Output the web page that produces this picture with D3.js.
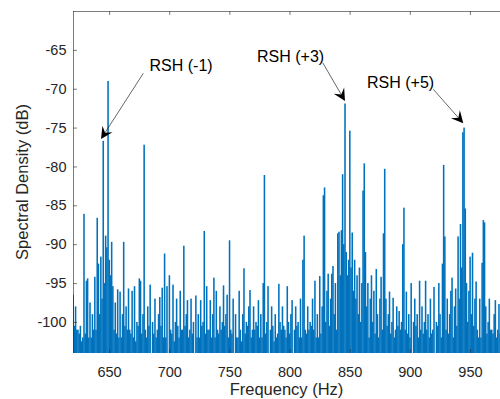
<!DOCTYPE html>
<html>
<head>
<meta charset="utf-8">
<script src="https://cdn.jsdelivr.net/npm/d3@7"></script>
<style>
  html, body { margin: 0; padding: 0; background: #fff; }
  svg { display: block; font-family: "Liberation Sans", Arial, Helvetica, sans-serif; }
</style>
</head>
<body>
<div id="chart"></div>
<script>
// spectrum, one sample per Hz starting at 620 Hz (values in dB)
const freqStart = 620;
const freqStep = 1;
const spectrum = [
  -96.5, -100.5, -98, -101, -101, -101.5, -100.5, -102.5, -102, -86.1,  // 620
  -101.5, -94.7, -94.4, -102, -97.5, -102, -99, -101, -94.2, -101,      // 630
  -86.6, -92.5, -99, -91.6, -97, -76.7, -95, -88.9, -90.4, -69,         // 640
  -92, -94, -89.7, -95.4, -101, -97.5, -101.5, -95.8, -102, -96.1,      // 650
  -102, -99, -89.7, -100.5, -98, -101, -95.7, -101, -101.5, -96,        // 660
  -102, -95.4, -102.5, -100, -100.5, -94.4, -94.7, -101.5, -99, -77.2,  // 670
  -101, -102, -98, -100.5, -95.2, -104.5, -100, -101.5, -97, -102,      // 680
  -101, -99, -96.8, -100.5, -95.6, -102, -91.2, -102, -95.4, -104.5,    // 690
  -94, -101, -101.5, -95.2, -102.5, -100, -97, -100.5, -102, -96,       // 700
  -101, -101, -90.2, -100.5, -99, -97.2, -102, -101, -97, -101.5,       // 710
  -100, -104.5, -96.6, -102, -99, -102, -97.2, -100.5, -100, -88.3,     // 720
  -101.5, -95.4, -101, -101, -97.2, -102, -99, -94.3, -102, -96,        // 730
  -101, -101.5, -98, -101, -100, -95.3, -100.5, -99, -96.5, -102,       // 740
  -89.5, -101, -101.5, -97, -104.5, -99, -102, -102, -96, -101,         // 750
  -102.5, -99, -93.1, -101.5, -100, -100.5, -98, -95.9, -102, -101,     // 760
  -98, -101, -100, -100.5, -97.2, -102, -99, -102, -95, -81.1,          // 770
  -101.5, -100, -95.4, -104.5, -101, -98, -100.5, -102.5, -99, -102,    // 780
  -101.5, -95.1, -100, -101, -98, -100.5, -101, -102, -95.4, -100,      // 790
  -101.5, -99, -97.2, -104.5, -101, -98, -100.5, -100, -102, -97,       // 800
  -102, -92, -88.9, -101, -101.5, -98, -101, -100, -100.5, -97,         // 810
  -101, -94.7, -102, -99, -102, -94.1, -101.5, -98, -83.7, -82.7,       // 820
  -100, -96, -93.8, -100.5, -97, -93.8, -92.8, -99, -95, -101,          // 830
  -88.6, -88.4, -94, -88.2, -81, -90, -71.9, -91, -94, -92,             // 840
  -75.4, -93, -88.5, -96, -92, -97, -94, -99, -93, -100,                // 850
  -95, -83.1, -79.6, -91, -98, -95, -102, -97, -94, -100,               // 860
  -96, -101.5, -93.2, -99, -102, -97, -94.2, -101, -88.6, -80.3,        // 870
  -97, -100.5, -99, -96.1, -101.5, -100, -96.9, -102, -101, -98,        // 880
  -100.5, -98.6, -101, -100, -90, -85.3, -101, -96.1, -101.5, -99,      // 890
  -102, -95, -104.5, -100, -97, -100.5, -99, -102, -94.7, -101,         // 900
  -98, -101.5, -100, -94.7, -101, -99, -102, -97, -101.5, -101,         // 910
  -95.5, -104.5, -100, -100.5, -95, -99, -102, -92.5, -79.8, -89,       // 920
  -101, -97, -101.5, -99, -96, -94.3, -102, -98, -95.7, -100.5,         // 930
  -89, -97, -87.4, -93, -75.6, -75, -85.4, -95, -100, -96,              // 940
  -91.6, -99, -91.1, -100.5, -97, -94.8, -101, -102, -97, -102,         // 950
  -92.4, -86.9, -87.2, -98, -101.5, -100, -97, -101, -101, -101.5,      // 960
  -99, -97.2, -102, -101, -97.7, -101.5                                 // 970
];

const xTicks = [650, 700, 750, 800, 850, 900, 950];
const yTicks = [-100, -95, -90, -85, -80, -75, -70, -65];
const xDomain = [620, 975];
const yDomain = [-104, -60];

const notes = ["RSH (-1)", "RSH (+3)", "RSH (+5)"];

let w = 500, h = 399;
let padL = 73, padR = 500, padT = 11, padB = 353;
let ink = "#262626";

let svg = d3.select("#chart").append("svg")
  .attr("width", w)
  .attr("height", h);

let xScale = d3.scaleLinear().domain(xDomain).range([padL, padR]);
let yScale = d3.scaleLinear().domain(yDomain).range([padB, padT]);

svg.append("clipPath").attr("id", "plotclip")
  .append("rect")
  .attr("x", padL).attr("y", padT)
  .attr("width", padR - padL).attr("height", padB - padT);

// spectrum drawn as dense stems from the floor
let pts = spectrum.map(function(v, i) { return { f: freqStart + i * freqStep, v: v }; });
let bw = xScale(freqStart + freqStep) - xScale(freqStart);

svg.append("g")
  .attr("clip-path", "url(#plotclip)")
  .selectAll("rect")
  .data(pts)
  .enter()
  .append("rect")
  .attr("x", function(d) { return xScale(d.f) - bw / 2; })
  .attr("y", function(d) { return yScale(d.v); })
  .attr("width", bw + 0.35) // slight overlap so no seams show
  .attr("height", function(d) { return Math.max(0, padB - yScale(d.v)); })
  .attr("fill", "#0072BD");

// axes (ticks pointing inward, MATLAB style)
let fmt = function(d) { return String(d); };

let xAxis = d3.axisBottom(xScale)
  .tickValues(xTicks)
  .tickFormat(fmt)
  .tickSizeInner(-4)
  .tickSizeOuter(0)
  .tickPadding(13.5);

let xAxisTop = d3.axisTop(xScale)
  .tickValues(xTicks)
  .tickSizeInner(-4)
  .tickSizeOuter(0)
  .tickFormat("");

let yAxis = d3.axisLeft(yScale)
  .tickValues(yTicks)
  .tickFormat(fmt)
  .tickSizeInner(-4)
  .tickSizeOuter(0)
  .tickPadding(6.5);

let gx = svg.append("g")
  .attr("transform", "translate(0," + padB + ")")
  .call(xAxis);
let gxt = svg.append("g")
  .attr("transform", "translate(0," + padT + ")")
  .call(xAxisTop);
let gy = svg.append("g")
  .attr("transform", "translate(" + padL + ",0)")
  .call(yAxis);

[gx, gxt, gy].forEach(function(g) {
  g.select(".domain").remove();
  g.selectAll(".tick line").attr("stroke", ink).attr("stroke-width", 0.6);
  g.selectAll(".tick text")
    .attr("fill", ink)
    .attr("font-size", "14.5px")
    .attr("font-family", "Liberation Sans, Arial, sans-serif");
});

// box
svg.append("path")
  .attr("d", "M" + padL + "," + padB + "V" + padT + "H" + padR)
  .attr("fill", "none")
  .attr("stroke", ink)
  .attr("stroke-width", 0.6)
  .attr("shape-rendering", "crispEdges");

// axis labels
svg.append("text")
  .attr("x", (padL + padR) / 2)
  .attr("y", 395)
  .attr("text-anchor", "middle")
  .attr("font-size", "16.5px")
  .attr("fill", ink)
  .text("Frequency (Hz)");

svg.append("text")
  .attr("transform", "translate(28," + ((padT + padB) / 2) + ") rotate(-90)")
  .attr("text-anchor", "middle")
  .attr("font-size", "16.5px")
  .attr("fill", ink)
  .text("Spectral Density (dB)");

// annotations: text position, arrow start, arrow tip (pixels)
let arrows = [
  { tx: 149.5, ty: 71, x1: 143.3, y1: 73.3, x2: 101, y2: 139 },
  { tx: 257, ty: 61.5, x1: 322.7, y1: 62.7, x2: 345, y2: 101 },
  { tx: 367, ty: 87.5, x1: 433.3, y1: 89.3, x2: 463.3, y2: 123.3 }
];

arrows.forEach(function(a, i) {
  svg.append("text")
    .attr("x", a.tx)
    .attr("y", a.ty)
    .attr("font-size", "16px")
    .attr("fill", "#000")
    .text(notes[i]);

  let dx = a.x2 - a.x1, dy = a.y2 - a.y1;
  let len = Math.sqrt(dx * dx + dy * dy);
  let ux = dx / len, uy = dy / len;
  let px = -uy, py = ux;
  let hl = 12, hw = 6, notch = 7.5;

  svg.append("line")
    .attr("x1", a.x1).attr("y1", a.y1)
    .attr("x2", a.x2 - ux * notch).attr("y2", a.y2 - uy * notch)
    .attr("stroke", "#000")
    .attr("stroke-width", 0.6);

  let bx = a.x2 - ux * hl, by = a.y2 - uy * hl;
  let head = [
    [a.x2, a.y2],
    [bx + px * hw, by + py * hw],
    [a.x2 - ux * notch, a.y2 - uy * notch],
    [bx - px * hw, by - py * hw]
  ];
  svg.append("path")
    .attr("d", "M" + head.map(function(p) { return p.join(","); }).join("L") + "Z")
    .attr("fill", "#000");
});
</script>
</body>
</html>
